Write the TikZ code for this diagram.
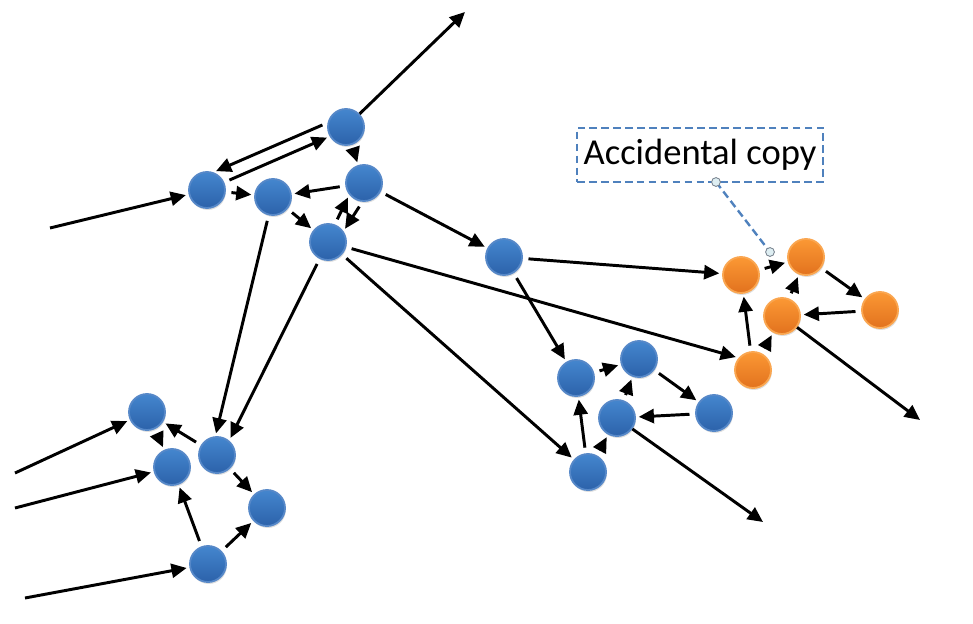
\documentclass[tikz,border=0pt]{standalone}
\usepackage{fontspec}
\setmainfont{Carlito}
\usetikzlibrary{arrows.meta,shadows}

\definecolor{dotbluetop}{RGB}{68,134,206}
\definecolor{dotbluebot}{RGB}{44,98,170}
\definecolor{dotblueedge}{RGB}{86,136,200}
\definecolor{dotorangetop}{RGB}{251,152,52}
\definecolor{dotorangebot}{RGB}{226,114,30}
\definecolor{dotorangeedge}{RGB}{250,166,80}
\definecolor{calloutblue}{RGB}{79,129,189}
\definecolor{handlefill}{RGB}{222,238,242}

\tikzset{
  dot/.style={circle, minimum size=0.9cm, inner sep=0pt, line width=1.3pt,
    drop shadow={opacity=0.25, shadow xshift=0.6pt, shadow yshift=-1.4pt}},
  bluedot/.style={dot, draw=dotblueedge, top color=dotbluetop, bottom color=dotbluebot},
  orangedot/.style={dot, draw=dotorangeedge, top color=dotorangetop, bottom color=dotorangebot},
  arr/.style={-{Triangle[length=3.8mm,width=3.5mm]}, line width=2.1pt, shorten >=2pt, shorten <=4pt},
  handle/.style={circle, draw=gray!80!calloutblue, fill=handlefill, line width=0.6pt, inner sep=0pt, minimum size=0.22cm}
}

\begin{document}
\begin{tikzpicture}[x=0.025cm, y=-0.025cm]
    \useasboundingbox (0, 0) rectangle (973, 624);

    % free ends
    \coordinate (in1) at (50, 228);
    \coordinate (in2) at (15, 473);
    \coordinate (in3) at (15, 508);
    \coordinate (in4) at (25, 598);
    \coordinate (out1) at (465, 12);
    \coordinate (out2) at (763, 522);
    \coordinate (out3) at (920, 420);

    % blue nodes
    \foreach \n/\x/\y in {a1/207/190, a2/346/127, a3/273/197, a4/364/183, a5/328/242, b1/504/257,
                          c1/147/412, c2/217/455, c3/172/467, c4/267/508, c5/208/564,
                          d1/576/378, d2/639/359, d3/617/418, d4/714/413, d5/588/472} {
        \node[bluedot] (\n) at (\x, \y) {};
    }

    % the copy
    \foreach \n/\x/\y in {e1/741/275, e2/806/257, e3/782/316, e4/880/310, e5/753/370} {
        \node[orangedot] (\n) at (\x, \y) {};
    }

    % edges
    \foreach \s/\t in {a1/a3, a2/a4, a4/a3, a3/a5, a4/b1, a5/d5, b1/e1, b1/d1,
                       c1/c3, c2/c1, c2/c4, c5/c3, c5/c4,
                       d1/d2, d2/d4, d4/d3, d3/d2, d5/d1, d5/d3,
                       e1/e2, e2/e4, e4/e3, e3/e2, e5/e1, e5/e3} {
        \draw[arr] (\s) -- (\t);
    }

    % pairs and odd angles
    \draw[arr] (a2.167) -- (a1.70);
    \draw[arr] (a1.24) -- (a2.210);
    \draw[arr] (a5.69) -- (a4.219);
    \draw[arr] (a4.265) -- (a5.35);
    \draw[arr] (a3) -- (c2.95);
    \draw[arr] (a5) -- (c2.50);
    \draw[arr] (a5) -- (e5.140);

    % in and out
    \foreach \s/\t in {in1/a1, in2/c1, in3/c3, in4/c5} {
        \draw[arr, shorten <=0pt] (\s) -- (\t);
    }
    \foreach \s/\t in {a2/out1, d3/out2, e3/out3} {
        \draw[arr, shorten <=0pt, shorten >=0pt] (\s) -- (\t);
    }

    % callout
    \node[draw=calloutblue, dashed, dash pattern=on 5.5pt off 3pt, line width=1.7pt,
          minimum width=6.15cm, minimum height=1.35cm, inner sep=0pt,
          font=\fontsize{26}{30}\selectfont] (callout) at (700, 155) {Accidental copy};
    \coordinate (hook) at (716, 182);
    \coordinate (tip) at (770, 252);
    \draw[calloutblue, dashed, dash pattern=on 5.5pt off 3pt, line width=1.7pt] (hook) -- (tip);
    \node[handle] (h1) at (hook) {};
    \node[handle] (h2) at (tip) {};
\end{tikzpicture}
\end{document}
